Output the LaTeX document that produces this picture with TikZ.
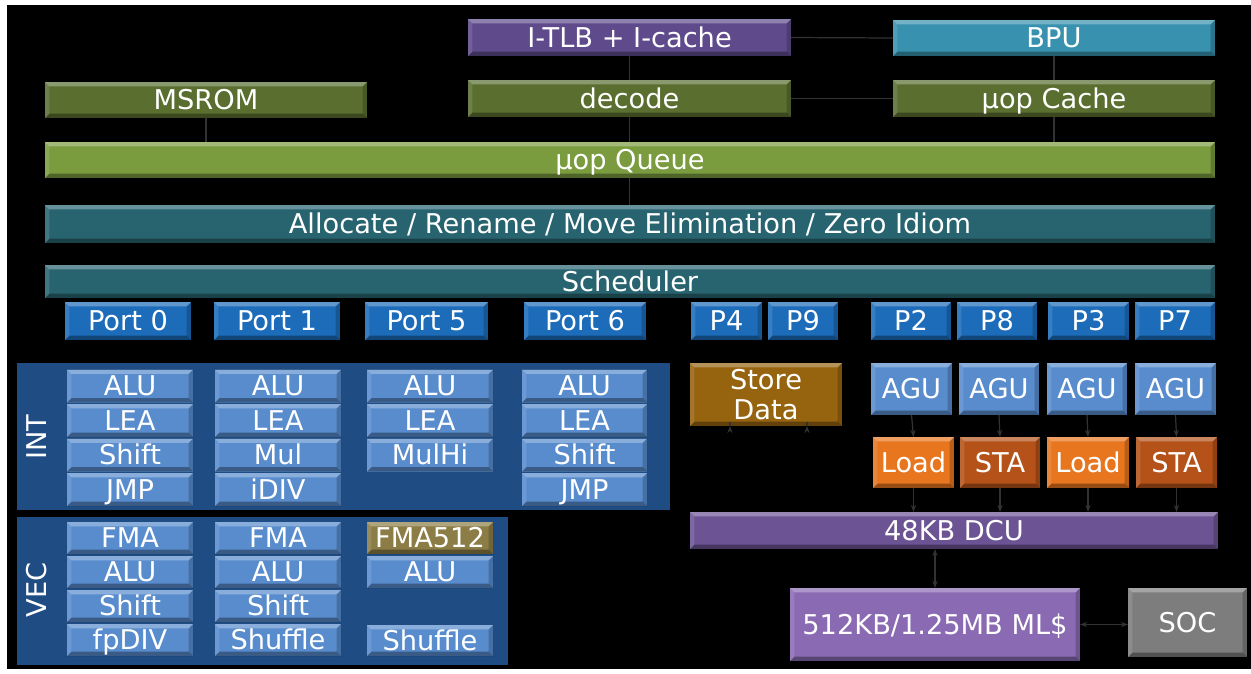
\documentclass[tikz,border=0pt]{standalone}
\usepackage{fontspec}
\setmainfont{DejaVu Sans}
\usepackage{tikz}
\usetikzlibrary{arrows.meta, calc, positioning}

\definecolor{itlbc}{RGB}{95,75,140}
\definecolor{bpuc}{RGB}{55,145,175}
\definecolor{frontc}{RGB}{90,110,48}
\definecolor{queuec}{RGB}{122,155,62}
\definecolor{schedc}{RGB}{40,100,112}
\definecolor{portc}{RGB}{28,108,186}
\definecolor{panelc}{RGB}{31,76,130}
\definecolor{unitc}{RGB}{88,140,205}
\definecolor{fmac}{RGB}{140,125,70}
\definecolor{storec}{RGB}{150,100,15}
\definecolor{loadc}{RGB}{232,118,30}
\definecolor{stac}{RGB}{180,82,25}
\definecolor{dcuc}{RGB}{108,84,148}
\definecolor{mlc}{RGB}{138,106,178}
\definecolor{socc}{RGB}{125,125,125}
\definecolor{linkc}{RGB}{50,50,50}

\def\bevw{2.5pt}

\begin{document}
\begin{tikzpicture}[x=0.02cm, y=-0.02cm,% pixel grid of the slide
         > = {Stealth[length=4pt,width=3pt]},
bevel/.style = {path picture={
    \fill[white,opacity=.3] (path picture bounding box.north west)
        -- (path picture bounding box.north east)
        -- ([xshift=-\bevw,yshift=-\bevw]path picture bounding box.north east)
        -- ([xshift=\bevw,yshift=-\bevw]path picture bounding box.north west) -- cycle;
    \fill[black,opacity=.35] (path picture bounding box.south west)
        -- (path picture bounding box.south east)
        -- ([xshift=-\bevw,yshift=\bevw]path picture bounding box.south east)
        -- ([xshift=\bevw,yshift=\bevw]path picture bounding box.south west) -- cycle;
    \fill[white,opacity=.12] (path picture bounding box.north west)
        -- ([xshift=\bevw,yshift=-\bevw]path picture bounding box.north west)
        -- ([xshift=\bevw,yshift=\bevw]path picture bounding box.south west)
        -- (path picture bounding box.south west) -- cycle;
    \fill[black,opacity=.2] (path picture bounding box.north east)
        -- ([xshift=-\bevw,yshift=-\bevw]path picture bounding box.north east)
        -- ([xshift=-\bevw,yshift=\bevw]path picture bounding box.south east)
        -- (path picture bounding box.south east) -- cycle;
    }},
   sz/.style 2 args = {minimum width=#1*0.02cm, minimum height=#2*0.02cm},
  blk/.style = {inner sep=0pt, outer sep=0pt, text=white,
                font=\fontsize{15.5pt}{16pt}\selectfont,
                text height=11pt, text depth=0pt, bevel},
 unit/.style = {blk, fill=unitc},
 port/.style = {blk, fill=portc, sz={#1}{38}},
panel/.style = {fill=panelc, inner sep=0pt, outer sep=0pt},
 side/.style = {text=white, font=\fontsize{15.5pt}{16pt}\selectfont, rotate=90},
 link/.style = {draw=linkc, line width=0.7pt}
                ]
	% slide background
	\useasboundingbox (0,0) rectangle (1251,673);
	\fill[white] (0,0) rectangle (1251,673);
	\fill[black] (7,5) rectangle (1251,669);

	% front end
	\node[blk, fill=itlbc,  sz={323}{37}]  (itlb)   at (629.5,37.5) {I-TLB + I-cache};
	\node[blk, fill=bpuc,   sz={322}{36}]  (bpu)    at (1054,38)    {BPU};
	\node[blk, fill=frontc, sz={322}{36}]  (msrom)  at (206,100)    {MSROM};
	\node[blk, fill=frontc, sz={323}{37}]  (decode) at (629.5,98.5) {decode};
	\node[blk, fill=frontc, sz={322}{37}]  (uopc)   at (1054,98.5)  {µop Cache};
	\node[blk, fill=queuec, sz={1170}{36}] (queue)  at (630,160)    {µop Queue};
	\node[blk, fill=schedc, sz={1170}{38}] (alloc)  at (630,224)    {Allocate / Rename / Move Elimination / Zero Idiom};
	\node[blk, fill=schedc, sz={1170}{33}] (sched)  at (630,281.5)  {Scheduler};

	% ports
	\node[port=126] (port0) at (128,321)    {Port 0};
	\node[port=126] (port1) at (277,321)    {Port 1};
	\node[port=123] (port5) at (426.5,321)  {Port 5};
	\node[port=122] (port6) at (585,321)    {Port 6};
	\node[port=71]  (p4)    at (726.5,321)  {P4};
	\node[port=70]  (p9)    at (803,321)    {P9};
	\node[port=80]  (p2)    at (911,321)    {P2};
	\node[port=80]  (p8)    at (997,321)    {P8};
	\node[port=81]  (p3)    at (1088.5,321) {P3};
	\node[port=80]  (p7)    at (1175,321)   {P7};

	% INT and VEC stacks
	\node[panel, sz={653}{147}] (int) at (343.5,436.5) {};
	\node[panel, sz={491}{148}] (vec) at (262.5,591) {};
	\node[side] (intlbl) at (37,437) {INT};
	\node[side] (veclbl) at (37,590) {VEC};

	\foreach \lbl [count=\r] in {ALU,LEA,Shift,JMP}
		\node[unit, sz={126}{33}] (ia\r) at (130,351.5+34.5*\r) {\lbl};
	\foreach \lbl [count=\r] in {ALU,LEA,Mul,iDIV}
		\node[unit, sz={126}{33}] (ib\r) at (278,351.5+34.5*\r) {\lbl};
	\foreach \lbl [count=\r] in {ALU,LEA,MulHi}
		\node[unit, sz={126}{33}] (ic\r) at (430,351.5+34.5*\r) {\lbl};
	\foreach \lbl [count=\r] in {ALU,LEA,Shift,JMP}
		\node[unit, sz={125}{33}] (id\r) at (584.5,351.5+34.5*\r) {\lbl};

	\foreach \lbl [count=\r] in {FMA,ALU,Shift,fpDIV}
		\node[unit, sz={126}{32}] (va\r) at (130,504+34*\r) {\lbl};
	\foreach \lbl [count=\r] in {FMA,ALU,Shift,Shuffle}
		\node[unit, sz={126}{32}] (vb\r) at (278,504+34*\r) {\lbl};
	\node[blk, fill=fmac, sz={126}{32}] (vc1) at (430,538) {FMA512};
	\node[unit, sz={126}{32}] (vc2) at (430,572)   {ALU};
	\node[unit, sz={126}{31}] (vc4) at (430,640.5) {Shuffle};

	% memory side
	\node[blk, fill=storec, sz={152}{63}, align=center, text height=, text depth=]
	      (store) at (766,394.5) {Store\\[1.5pt]Data};
	\node[unit, sz={81}{52}] (agu1) at (911.5,389) {AGU};
	\node[unit, sz={80}{52}] (agu2) at (999,389)   {AGU};
	\node[unit, sz={80}{52}] (agu3) at (1087,389)  {AGU};
	\node[unit, sz={81}{52}] (agu4) at (1175.5,389) {AGU};
	\node[blk, fill=loadc, sz={81}{51}] (load1) at (913.5,462.5)  {Load};
	\node[blk, fill=stac,  sz={80}{51}] (sta1)  at (1000,462.5)   {STA};
	\node[blk, fill=loadc, sz={82}{51}] (load2) at (1088,462.5)   {Load};
	\node[blk, fill=stac,  sz={81}{51}] (sta2)  at (1176.5,462.5) {STA};
	\node[blk, fill=dcuc, sz={528}{37}] (dcu) at (954,530.5)    {48KB DCU};
	\node[blk, fill=mlc,  sz={290}{73}] (ml)  at (935,624.5)    {512KB/1.25MB ML\$};
	\node[blk, fill=socc, sz={119}{69}] (soc) at (1187.5,622.5) {SOC};

	% connectors
	\draw[link] (itlb.east) -- (bpu.west);
	\draw[link] (decode.east) -- (uopc.west);
	\draw[link] (itlb.south) -- (decode.north);
	\draw[link] (bpu.south) -- (uopc.north);
	\draw[link] (msrom.south) -- (msrom.south |- queue.north);
	\draw[link] (decode.south) -- (decode.south |- queue.north);
	\draw[link] (uopc.south) -- (uopc.south |- queue.north);
	\draw[link] (decode.south |- queue.south) -- (decode.south |- alloc.north);

	\draw[link,->] ($(store.south)+(-36,0)$) -- ($(store.south)+(-36,0)$ |- dcu.north);
	\draw[link,->] ($(store.south)+(41,0)$)  -- ($(store.south)+(41,0)$ |- dcu.north);
	\foreach \a/\b in {agu1/load1, agu2/sta1, agu3/load2, agu4/sta2} {
		\draw[link,->] (\a.south) -- (\b.north);
		\draw[link,->] (\b.south) -- (\b.south |- dcu.north);
	}
	\draw[link,<->] (ml.north) -- (ml.north |- dcu.south);
	\draw[link,<->] (ml.east) -- (ml.east -| soc.west);
\end{tikzpicture}
\end{document}
